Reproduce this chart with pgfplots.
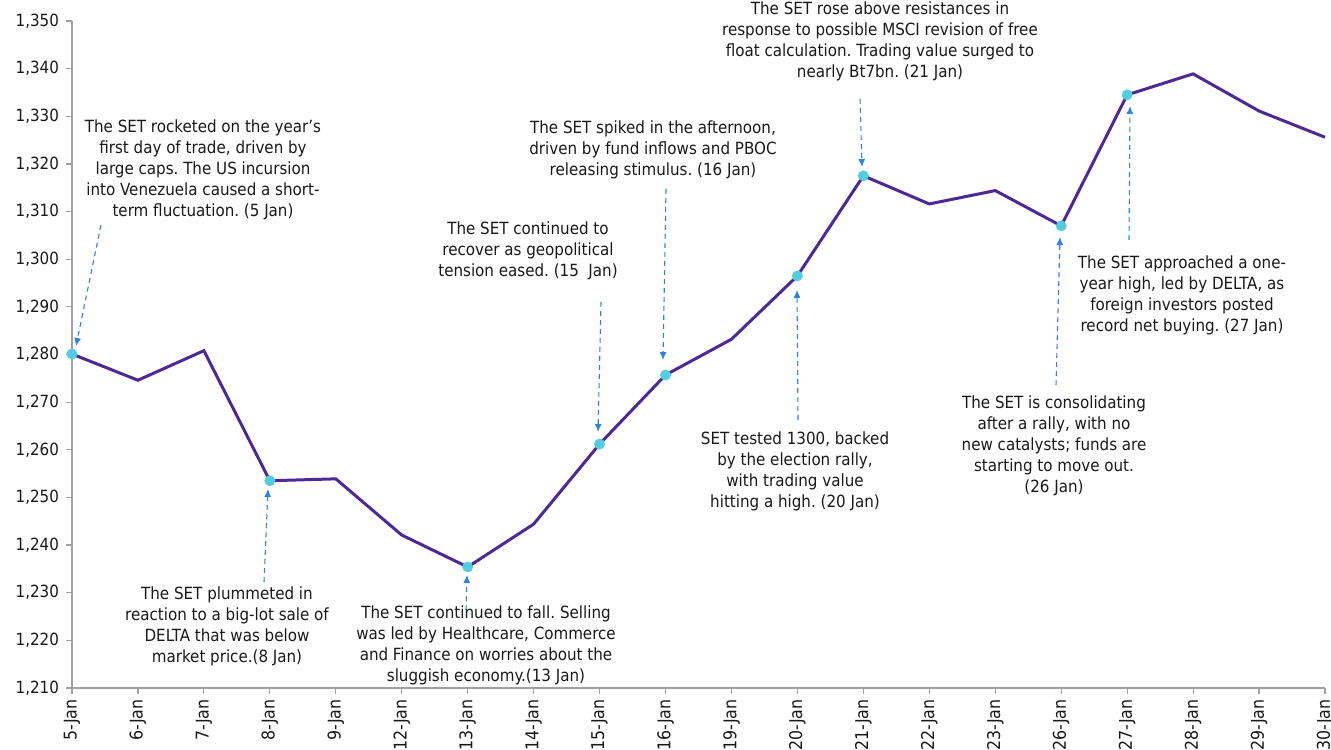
\documentclass[border=0pt]{standalone}
\usepackage{pgfplots}
\pgfplotsset{compat=1.18}
\usetikzlibrary{arrows.meta}
\usepackage{fontspec}
\setmainfont{DejaVu Sans Condensed}
\frenchspacing
\definecolor{setline}{RGB}{78,40,148}
\definecolor{setmark}{RGB}{85,205,225}
\definecolor{arrowblue}{RGB}{45,130,230}
\definecolor{axgray}{RGB}{160,160,160}
\definecolor{txt}{RGB}{25,25,25}
\begin{document}
\begin{tikzpicture}[
  note/.style={align=center, font=\fontsize{8.4}{10.5}\selectfont, text=txt, inner sep=0pt},
  arr/.style={draw=arrowblue, line width=0.55pt, dash pattern=on 2.5pt off 2pt, -{Latex[length=4pt,width=3.5pt]}}
]
\begin{axis}[
  at={(0,0)}, anchor=south west,
  scale only axis, width=626.5pt, height=333.5pt,
  xmin=0, xmax=19, ymin=1210, ymax=1350,
  clip=false,
  axis x line*=bottom, axis y line*=left,
  axis line style={axgray, line width=0.6pt},
  tick style={axgray, line width=0.6pt},
  tick align=outside, major tick length=3pt,
  xtick={0,...,19},
  xticklabels={5-Jan,6-Jan,7-Jan,8-Jan,9-Jan,12-Jan,13-Jan,14-Jan,15-Jan,16-Jan,19-Jan,20-Jan,21-Jan,22-Jan,23-Jan,26-Jan,27-Jan,28-Jan,29-Jan,30-Jan},
  xticklabel style={rotate=90, anchor=east, font=\fontsize{8.8}{9.6}\selectfont, text=txt, inner sep=2.5pt},
  ytick distance=10,
  yticklabel style={font=\fontsize{8.4}{9.6}\selectfont, text=txt, /pgf/number format/1000 sep={,}, /pgf/number format/assume math mode=true},
  scaled y ticks=false,
]
\addplot[setline, line width=1.5pt, mark=none] coordinates {
(0,1280.1) (1,1274.6) (2,1280.8) (3,1253.5) (4,1253.9) (5,1242.1) (6,1235.4) (7,1244.4) (8,1261.2) (9,1275.7)
(10,1283.2) (11,1296.5) (12,1317.5) (13,1311.6) (14,1314.4) (15,1307.0) (16,1334.5) (17,1338.9) (18,1331.1) (19,1325.6)};
\addplot[only marks, mark=*, mark size=2.5pt, mark options={fill=setmark, draw=setmark}] coordinates {
(0,1280.1) (3,1253.5) (6,1235.4) (8,1261.2) (9,1275.7) (11,1296.5) (12,1317.5) (15,1307.0) (16,1334.5)};
\end{axis}
% annotations (axis origin at 0,0; 1px = 0.5pt)
\node[note] at (65.5pt,259pt) {The SET rocketed on the year's\\first day of trade, driven by\\large caps. The US incursion\\into Venezuela caused a short-\\term fluctuation. (5 Jan)};
\node[note] at (77.5pt,31pt) {The SET plummeted in\\reaction to a big-lot sale of\\DELTA that was below\\market price.(8 Jan)};
\node[note] at (207pt,21.5pt) {The SET continued to fall. Selling\\was led by Healthcare, Commerce\\and Finance on worries about the\\sluggish economy.(13 Jan)};
\node[note] at (228pt,218.5pt) {The SET continued to\\recover as geopolitical\\tension eased. (15~ Jan)};
\node[note] at (290.5pt,269pt) {The SET spiked in the afternoon,\\driven by fund inflows and PBOC\\releasing stimulus. (16 Jan)};
\node[note] at (361.5pt,108.5pt) {SET tested 1300, backed\\by the election rally,\\with trading value\\hitting a high. (20 Jan)};
\node[note] at (404pt,323.5pt) {The SET rose above resistances in\\response to possible MSCI revision of free\\float calculation. Trading value surged to\\nearly Bt7bn. (21 Jan)};
\node[note] at (491pt,121pt) {The SET is consolidating\\after a rally, with no\\new catalysts; funds are\\starting to move out.\\(26 Jan)};
\node[note] at (555pt,196.5pt) {The SET approached a one-\\year high, led by DELTA, as\\foreign investors posted\\record net buying. (27 Jan)};
\draw[arr] (14.5pt,231.5pt) -- (2pt,171pt);
\draw[arr] (96pt,53pt) -- (98pt,99.5pt);
\draw[arr] (197pt,39pt) -- (197.5pt,56.5pt);
\draw[arr] (264.5pt,193pt) -- (263pt,128pt);
\draw[arr] (297pt,249.5pt) -- (295.5pt,164pt);
\draw[arr] (363pt,134pt) -- (362.5pt,199pt);
\draw[arr] (394pt,294.5pt) -- (395pt,260.5pt);
\draw[arr] (492pt,151.5pt) -- (494pt,225.5pt);
\draw[arr] (528.5pt,224pt) -- (529pt,291pt);
\pgfresetboundingbox
\useasboundingbox (-36pt,-30.5pt) rectangle (629.5pt,344pt);
\end{tikzpicture}
\end{document}
